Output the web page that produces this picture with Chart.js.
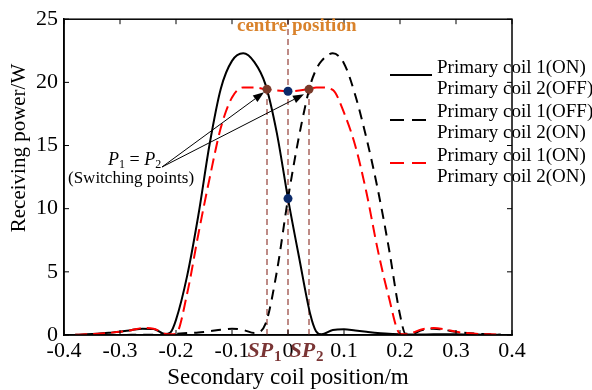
<!DOCTYPE html>
<html>
<head>
<meta charset="utf-8">
<script src="https://cdn.jsdelivr.net/npm/chart.js@4"></script>
<style>
  html, body { margin: 0; padding: 0; background: #fff; }
  canvas { display: block; }
</style>
</head>
<body>
<canvas id="chart" width="592" height="390"></canvas>
<script>
// secondary coil position (m)
var positions = [-0.38, -0.36, -0.34, -0.32, -0.30, -0.28, -0.26, -0.24, -0.22, -0.21,
                 -0.20, -0.18, -0.16, -0.14, -0.12, -0.10, -0.08, -0.06, -0.04, -0.02,
                 0, 0.02, 0.04, 0.05, 0.06, 0.08, 0.10, 0.12, 0.14, 0.16,
                 0.18, 0.20, 0.21, 0.22, 0.24, 0.26, 0.28, 0.30, 0.32, 0.34, 0.36, 0.38];

// receiving power (W)
var coil1On = [0.02, 0.05, 0.10, 0.17, 0.25, 0.38, 0.50, 0.48, 0.08, 0.20,
               1.2, 4.7, 9.5, 15.1, 19.5, 21.7, 22.3, 21.6, 19.8, 16.0,
               10.8, 6.1, 1.6, 0.3, 0.05, 0.40, 0.45, 0.35, 0.25, 0.15,
               0.10, 0.05, 0.03, 0.03, 0.04, 0.05, 0.05, 0.05, 0.04, 0.03, 0.02, 0.02];
var coil2On = [0.0, 0.0, 0.0, 0.0, 0.0, 0.01, 0.01, 0.02, 0.05, 0.08,
               0.10, 0.15, 0.20, 0.30, 0.42, 0.50, 0.40, 0.15, 0.9, 5.0,
               10.8, 15.8, 19.8, 21.0, 21.7, 22.3, 21.5, 19.0, 15.6, 11.6,
               6.9, 1.6, 0.1, 0.1, 0.4, 0.5, 0.4, 0.25, 0.15, 0.1, 0.05, 0.02];
var bothOn = [0.02, 0.05, 0.10, 0.17, 0.25, 0.38, 0.55, 0.50, 0.10, 0.05,
              0.1, 3.3, 8.0, 12.4, 16.4, 18.8, 19.6, 19.6, 19.45, 19.35,
              19.3, 19.35, 19.5, 19.6, 19.6, 19.4, 17.6, 15.0, 11.3, 6.8,
              3.0, 0.1, 0.05, 0.15, 0.45, 0.55, 0.45, 0.25, 0.15, 0.08, 0.05, 0.02];

var switchPoints = [-0.0375, 0.0375];
var switchPower = 19.45;
var centreMarks = [19.3, 10.8];

var legendText = [
  ['Primary coil 1(ON)', 'Primary coil 2(OFF)'],
  ['Primary coil 1(OFF)', 'Primary coil 2(ON)'],
  ['Primary coil 1(ON)', 'Primary coil 2(ON)']
];

var serif = '"Liberation Serif", "Times New Roman", serif';
Chart.defaults.font.family = serif;
Chart.defaults.color = '#000';

function pts(ys) {
  return positions.map(function (x, i) { return { x: x, y: ys[i] }; });
}

var guideColor = '#a8645e';

function arrow(ctx, x0, y0, x1, y1) {
  var ang = Math.atan2(y1 - y0, x1 - x0);
  var len = 11, half = 4;
  var bx = x1 - len * Math.cos(ang), by = y1 - len * Math.sin(ang);
  ctx.beginPath();
  ctx.moveTo(x0, y0);
  ctx.lineTo(bx, by);
  ctx.stroke();
  ctx.beginPath();
  ctx.moveTo(x1, y1);
  ctx.lineTo(bx + half * Math.sin(ang), by - half * Math.cos(ang));
  ctx.lineTo(bx - half * Math.sin(ang), by + half * Math.cos(ang));
  ctx.closePath();
  ctx.fill();
}

var decor = {
  id: 'decor',
  afterDraw: function (chart) {
    var ctx = chart.ctx, a = chart.chartArea;
    var xs = chart.scales.x, ys = chart.scales.y;
    ctx.save();

    // inward ticks on all four sides
    ctx.strokeStyle = '#000';
    ctx.lineWidth = 1;
    ctx.beginPath();
    xs.ticks.forEach(function (t) {
      var px = xs.getPixelForValue(t.value);
      ctx.moveTo(px, a.bottom); ctx.lineTo(px, a.bottom - 5);
      ctx.moveTo(px, a.top); ctx.lineTo(px, a.top + 5);
    });
    ys.ticks.forEach(function (t) {
      var py = ys.getPixelForValue(t.value);
      ctx.moveTo(a.left, py); ctx.lineTo(a.left + 5, py);
      ctx.moveTo(a.right, py); ctx.lineTo(a.right - 5, py);
    });
    ctx.stroke();
    ctx.lineWidth = 1.5;
    ctx.strokeRect(a.left, a.top, a.right - a.left, a.bottom - a.top);

    // y axis title
    ctx.fillStyle = '#000';
    ctx.font = '21px ' + serif;
    ctx.save();
    ctx.translate(19, 148);
    ctx.rotate(-Math.PI / 2);
    ctx.textAlign = 'center';
    ctx.textBaseline = 'middle';
    ctx.fillText('Receiving power/W', 0, 0);
    ctx.restore();

    // centre position label
    var cx = xs.getPixelForValue(0);
    ctx.fillStyle = '#d9822b';
    ctx.font = 'bold 19px ' + serif;
    ctx.textBaseline = 'alphabetic';
    ctx.textAlign = 'left';
    ctx.fillText('centre position', cx - 51, 31);

    // SP labels under the axis
    ctx.fillStyle = '#7a3535';
    switchPoints.forEach(function (v, i) {
      var px = xs.getPixelForValue(v);
      ctx.font = 'italic bold 22px ' + serif;
      var w1 = ctx.measureText('SP').width;
      ctx.font = 'bold 15px ' + serif;
      var w2 = ctx.measureText(String(i + 1)).width;
      var x0 = px - 3 - (w1 + w2) / 2;
      ctx.font = 'italic bold 22px ' + serif;
      ctx.fillText('SP', x0, 357);
      ctx.font = 'bold 15px ' + serif;
      ctx.fillText(String(i + 1), x0 + w1 + 1, 361);
    });

    // P1 = P2 annotation
    ctx.fillStyle = '#000';
    var x = 108;
    ctx.font = 'italic 18px ' + serif;
    ctx.fillText('P', x, 165); x += ctx.measureText('P').width;
    ctx.font = '12px ' + serif;
    ctx.fillText('1', x, 168); x += ctx.measureText('1').width;
    ctx.font = '18px ' + serif;
    ctx.fillText(' = ', x, 165); x += ctx.measureText(' = ').width;
    ctx.font = 'italic 18px ' + serif;
    ctx.fillText('P', x, 165); x += ctx.measureText('P').width;
    ctx.font = '12px ' + serif;
    ctx.fillText('2', x, 168);
    ctx.font = '17px ' + serif;
    ctx.fillText('(Switching points)', 68, 183);

    ctx.strokeStyle = '#000';
    ctx.fillStyle = '#000';
    ctx.lineWidth = 1;
    var py = ys.getPixelForValue(switchPower);
    arrow(ctx, 162, 167, xs.getPixelForValue(switchPoints[0]) - 3, py + 3);
    arrow(ctx, 162, 167, xs.getPixelForValue(switchPoints[1]) - 5, py + 5);

    // legend
    var rows = [[75, 73], [120, 117], [163, 161]];
    chart.data.datasets.slice(0, 3).forEach(function (ds, i) {
      ctx.strokeStyle = ds.borderColor;
      ctx.lineWidth = 2;
      ctx.setLineDash(ds.borderDash ? [14, 8] : []);
      ctx.beginPath();
      ctx.moveTo(390, rows[i][0]);
      ctx.lineTo(432, rows[i][0]);
      ctx.stroke();
      ctx.setLineDash([]);
      ctx.fillStyle = '#000';
      ctx.font = '19px ' + serif;
      ctx.fillText(legendText[i][0], 437, rows[i][1]);
      ctx.fillText(legendText[i][1], 437, rows[i][1] + 21);
    });

    ctx.restore();
  }
};

new Chart(document.getElementById('chart'), {
  type: 'line',
  data: {
    datasets: [
      { label: legendText[0].join(' '), data: pts(coil1On), borderColor: '#000', borderWidth: 2,
        pointRadius: 0, cubicInterpolationMode: 'monotone', order: 2 },
      { label: legendText[1].join(' '), data: pts(coil2On), borderColor: '#000', borderWidth: 2,
        borderDash: [10, 7], pointRadius: 0, cubicInterpolationMode: 'monotone', order: 2 },
      { label: legendText[2].join(' '), data: pts(bothOn), borderColor: '#ff0000', borderWidth: 2,
        borderDash: [12, 6], pointRadius: 0, cubicInterpolationMode: 'monotone', order: 1 },
      { data: [{ x: switchPoints[0], y: 0 }, { x: switchPoints[0], y: switchPower }],
        borderColor: guideColor, borderWidth: 1.5, borderDash: [6, 4], pointRadius: 0, order: 3 },
      { data: [{ x: 0, y: 0 }, { x: 0, y: 25 }],
        borderColor: guideColor, borderWidth: 1.5, borderDash: [6, 4], pointRadius: 0, order: 3 },
      { data: [{ x: switchPoints[1], y: 0 }, { x: switchPoints[1], y: switchPower }],
        borderColor: guideColor, borderWidth: 1.5, borderDash: [6, 4], pointRadius: 0, order: 3 },
      { data: switchPoints.map(function (v) { return { x: v, y: switchPower }; }),
        showLine: false, pointRadius: 4.5, pointBorderWidth: 0,
        pointBackgroundColor: '#7a3a2a', backgroundColor: '#7a3a2a', order: 0 },
      { data: centreMarks.map(function (v) { return { x: 0, y: v }; }),
        showLine: false, pointRadius: 4.5, pointBorderWidth: 0,
        pointBackgroundColor: '#0b2a6a', backgroundColor: '#0b2a6a', order: 0 }
    ]
  },
  options: {
    responsive: false,
    animation: false,
    devicePixelRatio: 1,
    layout: { padding: { top: 12, right: 80, left: 0, bottom: 0 } },
    plugins: { legend: { display: false }, tooltip: { enabled: false } },
    scales: {
      x: {
        type: 'linear', min: -0.4, max: 0.4,
        grid: { display: false, drawTicks: false },
        border: { display: true, color: '#000', width: 1.5 },
        ticks: {
          stepSize: 0.1, autoSkip: false, maxRotation: 0, padding: 3,
          font: { size: 22 }, color: '#000',
          callback: function (v) { return Math.abs(v) < 1e-9 ? '0' : v.toFixed(1); }
        },
        title: { display: true, text: 'Secondary coil position/m', font: { size: 23, lineHeight: 1 },
                 color: '#000', padding: { top: 0, bottom: 1 } },
        afterFit: function (s) { s.height = 55; }
      },
      y: {
        min: 0, max: 25,
        grid: { display: false, drawTicks: false },
        border: { display: true, color: '#000', width: 1.5 },
        ticks: { stepSize: 5, padding: 6, font: { size: 22 }, color: '#000' },
        title: { display: false },
        afterFit: function (s) { s.width = 64; }
      }
    }
  },
  plugins: [decor]
});
</script>
</body>
</html>
